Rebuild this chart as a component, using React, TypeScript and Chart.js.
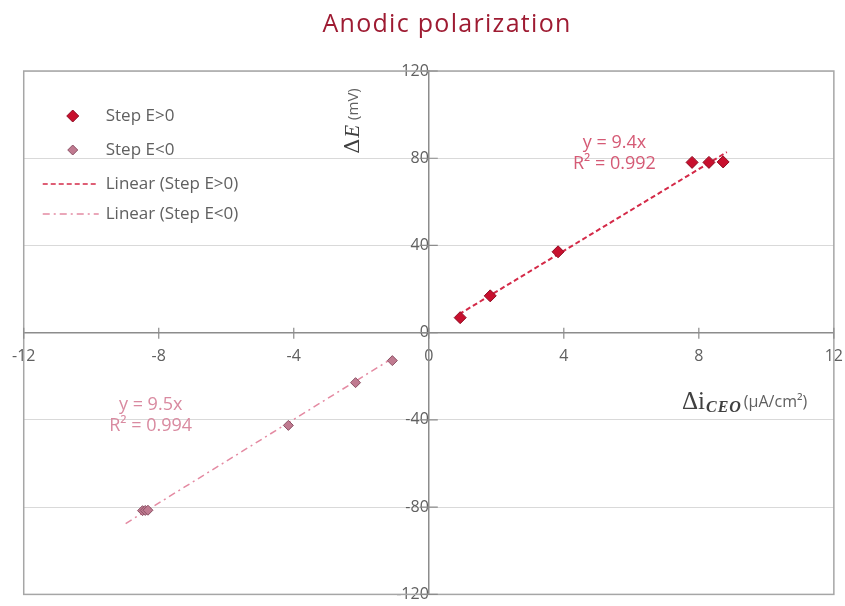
import React, { useEffect, useRef } from "react";
import { Chart, registerables } from "chart.js";
Chart.register(...registerables);

const chartTitle = "Anodic polarization";
const xTickValues = [-12, -8, -4, 0, 4, 8, 12];
const yTickValues = [-120, -80, -40, 0, 40, 80, 120];

const posLabel = "Step E>0";
const posX = [0.93, 1.82, 3.83, 7.8, 8.3, 8.72];
const posY = [6.9, 16.9, 37.1, 78.1, 78.1, 78.3];

const negLabel = "Step E<0";
const negX = [-1.08, -2.17, -4.16, -8.48, -8.4, -8.32];
const negY = [-12.8, -22.9, -42.5, -81.6, -81.5, -81.4];

const trendPosLabel = "Linear (Step E>0)";
const trendPosX = [0.9, 8.83];
const trendPosY = [8.5, 82.8];

const trendNegLabel = "Linear (Step E<0)";
const trendNegX = [-8.98, -1.0];
const trendNegY = [-87.5, -11];

const eqPos = ["y = 9.4x", "R² = 0.992"];
const eqPosAt = { x: 5.5, y: 87 };
const eqNeg = ["y = 9.5x", "R² = 0.994"];
const eqNegAt = { x: -8.24, y: -33 };

const yTitleMain = "ΔE";
const yTitleUnit = "(mV)";
const xTitleMain = "Δi";
const xTitleSub = "CEO";
const xTitleUnit = "(μA/cm²)";

const toPts = (xs: number[], ys: number[]) => xs.map((x, i) => ({ x, y: ys[i] }));

const GRAY = "#606060";
const AXIS = "#8c8c8c";
const SHIFT_X = 2;

const overlay = {
  id: "overlay",
  afterDraw(chart: any) {
    const { ctx, chartArea: a, scales } = chart;
    const xs = scales.x;
    const ys = scales.y;
    const ax = xs.getPixelForValue(0);
    const ay = ys.getPixelForValue(0);
    ctx.save();
    // border
    ctx.strokeStyle = "#a6a6a6";
    ctx.lineWidth = 1.5;
    ctx.strokeRect(a.left, a.top, a.right - a.left, a.bottom - a.top);

    // cross ticks
    ctx.strokeStyle = AXIS;
    ctx.lineWidth = 1.2;
    ctx.beginPath();
    yTickValues.forEach((v) => {
      const p = ys.getPixelForValue(v);
      ctx.moveTo(ax - 9, p);
      ctx.lineTo(ax + 9, p);
    });
    xTickValues.forEach((v) => {
      const p = xs.getPixelForValue(v);
      ctx.moveTo(p, ay - 5);
      ctx.lineTo(p, ay + 6);
    });
    ctx.stroke();

    // title
    ctx.fillStyle = "#9e1b32";
    ctx.font = "500 25px 'Open Sans'";
    (ctx as any).letterSpacing = "1.3px";
    ctx.textAlign = "center";
    ctx.textBaseline = "middle";
    ctx.fillText(chartTitle, 447 + SHIFT_X, 25);
    (ctx as any).letterSpacing = "0px";

    // equations
    ctx.font = "18px 'Open Sans'";
    ctx.fillStyle = "#d55a75";
    ctx.fillText(eqPos[0], xs.getPixelForValue(eqPosAt.x), ys.getPixelForValue(eqPosAt.y));
    ctx.fillText(eqPos[1], xs.getPixelForValue(eqPosAt.x), ys.getPixelForValue(eqPosAt.y) + 21);
    ctx.fillStyle = "#d98aa0";
    ctx.fillText(eqNeg[0], xs.getPixelForValue(eqNegAt.x), ys.getPixelForValue(eqNegAt.y));
    ctx.fillText(eqNeg[1], xs.getPixelForValue(eqNegAt.x), ys.getPixelForValue(eqNegAt.y) + 21);

    // legend
    const ds = chart.data.datasets;
    const lx = a.left + 19;
    let ly = a.top + 45;
    const rows = [34, 34, 30, 30];
    ctx.textAlign = "left";
    ctx.font = "17px 'Open Sans'";
    ds.forEach((d: any, i: number) => {
      if (d.showLine) {
        ctx.strokeStyle = d.borderColor;
        ctx.lineWidth = 1.5;
        ctx.setLineDash(d.borderDash);
        ctx.beginPath();
        ctx.moveTo(lx, ly);
        ctx.lineTo(lx + 56, ly);
        ctx.stroke();
        ctx.setLineDash([]);
      } else {
        const r = d.pointRadius;
        const cx = lx + 30;
        ctx.fillStyle = d.backgroundColor;
        ctx.strokeStyle = d.borderColor;
        ctx.lineWidth = 1;
        ctx.beginPath();
        ctx.moveTo(cx, ly - r);
        ctx.lineTo(cx + r, ly);
        ctx.lineTo(cx, ly + r);
        ctx.lineTo(cx - r, ly);
        ctx.closePath();
        ctx.fill();
        ctx.stroke();
      }
      ctx.fillStyle = GRAY;
      ctx.fillText(d.label, lx + 63, ly);
      ly += rows[i];
    });

    // y axis title (rotated, reading bottom to top)
    ctx.save();
    ctx.translate(ax - 70, ys.getPixelForValue(82));
    ctx.rotate(-Math.PI / 2);
    ctx.textAlign = "left";
    ctx.textBaseline = "alphabetic";
    ctx.fillStyle = "#404040";
    ctx.font = "21px 'DejaVu Serif'";
    ctx.fillText(yTitleMain[0], 0, 0);
    const dw = ctx.measureText(yTitleMain[0]).width;
    ctx.font = "italic 21px 'Liberation Serif'";
    ctx.fillText(yTitleMain.slice(1), dw + 1, 0);
    const ew = ctx.measureText(yTitleMain.slice(1)).width;
    ctx.fillStyle = GRAY;
    ctx.font = "15px 'Open Sans'";
    ctx.fillText(yTitleUnit, dw + ew + 6, -1);
    ctx.restore();

    // x axis title
    const tx = xs.getPixelForValue(7.5);
    const ty = ys.getPixelForValue(-35);
    ctx.textBaseline = "alphabetic";
    ctx.textAlign = "left";
    ctx.fillStyle = "#404040";
    ctx.font = "25px 'Liberation Serif'";
    ctx.fillText(xTitleMain, tx, ty);
    const w = ctx.measureText(xTitleMain).width;
    ctx.font = "italic bold 16px 'Liberation Serif'";
    (ctx as any).letterSpacing = "1px";
    ctx.fillText(xTitleSub, tx + w + 1, ty + 3);
    const w2 = ctx.measureText(xTitleSub).width;
    (ctx as any).letterSpacing = "0px";
    ctx.fillStyle = GRAY;
    ctx.font = "16px 'Open Sans'";
    ctx.fillText(xTitleUnit, tx + w + w2 + 3, ty - 2);
    ctx.restore();
  },
};

export default function App() {
  const ref = useRef<HTMLCanvasElement>(null);
  useEffect(() => {
    document.body.style.margin = "0";
    const chart = new Chart(ref.current!, {
      type: "scatter",
      data: {
        datasets: [
          {
            label: posLabel,
            data: toPts(posX, posY),
            pointStyle: "rectRot",
            pointRadius: 6,
            backgroundColor: "#c8102e",
            borderColor: "#8e0c22",
            borderWidth: 1,
            showLine: false,
            order: 1,
          } as any,
          {
            label: negLabel,
            data: toPts(negX, negY),
            pointStyle: "rectRot",
            pointRadius: 5,
            backgroundColor: "#c07a90",
            borderColor: "#8a5064",
            borderWidth: 1,
            showLine: false,
            order: 1,
          },
          {
            label: trendPosLabel,
            data: toPts(trendPosX, trendPosY),
            showLine: true,
            borderColor: "#d42a48",
            borderWidth: 2,
            borderDash: [5, 3],
            pointRadius: 0,
            order: 2,
          },
          {
            label: trendNegLabel,
            data: toPts(trendNegX, trendNegY),
            showLine: true,
            borderColor: "#e48aa2",
            borderWidth: 1.5,
            borderDash: [7, 4, 2, 4],
            pointRadius: 0,
            order: 2,
          },
        ],
      },
      options: {
        animation: false,
        responsive: false,
        layout: { padding: { left: 0, right: 0, top: 71, bottom: 0 } },
        plugins: { legend: { display: false }, tooltip: { enabled: false }, title: { display: false } },
        scales: {
          x: {
            type: "linear",
            min: -12,
            max: 12,
            position: { y: 0 } as any,
            afterBuildTicks: (s: any) => { s.ticks = xTickValues.map((v) => ({ value: v })); },
            ticks: { color: GRAY, font: { family: "Open Sans", size: 16 }, padding: 14 },
            grid: { display: true, color: "transparent", drawTicks: false, drawOnChartArea: false },
            border: { display: true, color: AXIS, width: 1.5 },
          },
          y: {
            type: "linear",
            min: -120,
            max: 120,
            position: { x: 0 } as any,
            afterBuildTicks: (s: any) => { s.ticks = yTickValues.map((v) => ({ value: v })); },
            ticks: { color: GRAY, font: { family: "Open Sans", size: 16 }, padding: 18 },
            grid: { color: "#d9d9d9", lineWidth: 1, drawTicks: false },
            border: { display: true, color: AXIS, width: 1.5 },
          },
        },
      },
      plugins: [overlay],
    });
    return () => chart.destroy();
  }, []);
  return (
    <div style={{ width: 845, height: 606, background: "#fff", overflow: "hidden", position: "relative" }}>
      <canvas ref={ref} width={859} height={622} style={{ position: "absolute", left: -SHIFT_X, top: 0 }} />
    </div>
  );
}
